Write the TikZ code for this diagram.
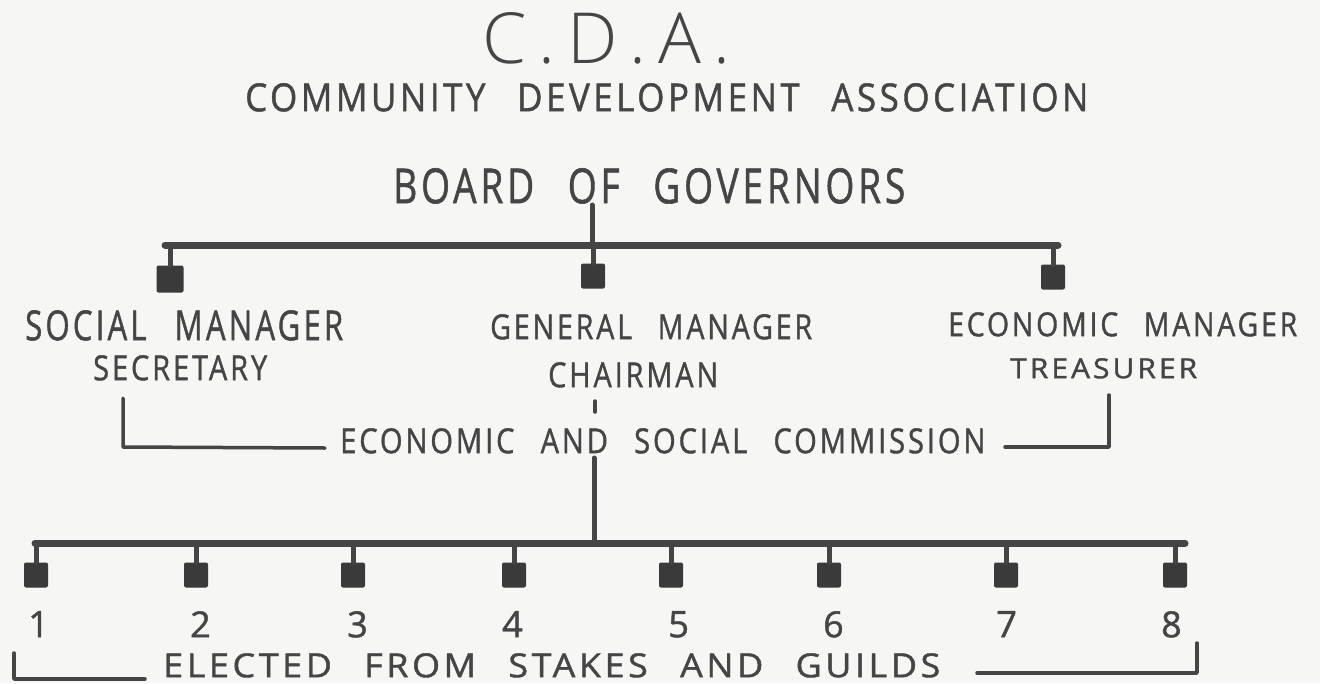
\documentclass[tikz,border=0pt]{standalone}
\usepackage{fontspec}
\setmainfont{Open Sans}
\usepackage{graphicx}
\definecolor{paper}{HTML}{F6F6F4}
\definecolor{ink}{HTML}{454545}
\definecolor{inkdark}{HTML}{3A3A3A}
% text box of a given width and cap height, top-left corner at the anchor
\newcommand{\fitlabel}[3]{\resizebox{#1pt}{#2pt}{\addfontfeature{LetterSpace=10,FakeBold=1.2}#3}}
\newcommand{\gap}{\hspace{0.9em}}
\begin{document}
\begin{tikzpicture}[x=1pt,y=-1pt,
  lbl/.style={anchor=north west,inner sep=0pt,text=ink},
  bar/.style={draw=ink,line width=7pt,line cap=round},
  stem/.style={draw=ink,line width=5pt,line cap=round},
  brk/.style={draw=ink,line width=3.5pt,line cap=round,line join=round},
  sq/.style={rectangle,fill=inkdark,inner sep=0pt,minimum width=24pt,minimum height=25pt,rounded corners=2pt}]
\fill[paper] (0,0) rectangle (1320,683);
\useasboundingbox (0,0) rectangle (1320,683);

% titles
\node[lbl] (cda) at (482,12) {\resizebox{248pt}{51pt}{\fontspec{Open Sans Light}C\,.\,D\,.\,A\,.}};
\node[lbl] (assoc) at (245,83) {\fitlabel{843}{28}{COMMUNITY\gap DEVELOPMENT\gap ASSOCIATION}};
\node[lbl] (board) at (393,168) {\fitlabel{512}{35}{BOARD\gap OF\gap GOVERNORS}};

% upper level
\coordinate (bTop) at (592,205);
\coordinate (bL) at (165,245);
\coordinate (bM) at (592,245);
\coordinate (bR) at (1058,245);
\draw[stem] (bTop) -- (bM);
\draw[bar] (bL) -- (bR);
\node[sq,minimum width=27pt,minimum height=27pt] (u1) at (170,279) {};
\node[sq] (u2) at (593,276) {};
\node[sq] (u3) at (1053,277) {};
\foreach \s in {u1,u2,u3} \draw[stem] (\s |- bL) -- (\s.north);

\node[lbl] (social) at (25,310) {\fitlabel{318}{30}{SOCIAL\gap MANAGER}};
\node[lbl] (secr) at (93,355) {\fitlabel{174}{25}{SECRETARY}};
\node[lbl] (general) at (490,314) {\fitlabel{322}{25}{GENERAL\gap MANAGER}};
\node[lbl] (chair) at (548,362) {\fitlabel{170}{25}{CHAIRMAN}};
\node[lbl] (econ) at (948,312) {\fitlabel{349}{24}{ECONOMIC\gap MANAGER}};
\node[lbl] (treas) at (1010,358) {\fitlabel{187}{20}{TREASURER}};

% commission
\coordinate (tickA) at (595,401);
\coordinate (tickB) at (595,412);
\draw[brk] (tickA) -- (tickB);
\node[lbl] (comm) at (340,428) {\fitlabel{645}{25}{ECONOMIC\gap AND\gap SOCIAL\gap COMMISSION}};
\coordinate (cl1) at (123,398);
\coordinate (cl2) at (123,447);
\coordinate (cl3) at (325,448);
\coordinate (cr1) at (1005,447);
\coordinate (cr2) at (1109,447);
\coordinate (cr3) at (1109,395);
\draw[brk] (cl1) -- (cl2) -- (cl3);
\draw[brk] (cr1) -- (cr2) -- (cr3);

% lower level
\coordinate (lTop) at (594,458);
\coordinate (lM) at (594,543);
\coordinate (lL) at (35,543);
\coordinate (lR) at (1185,543);
\draw[stem] (lTop) -- (lM);
\draw[bar] (lL) -- (lR);
\foreach \i/\x in {1/36,2/196,3/353,4/514,5/671,6/829,7/1006,8/1175}{
  \node[sq] (d\i) at (\x,575) {};
  \draw[stem] (d\i |- lL) -- (d\i.north);
}
\foreach \i/\x in {1/28,2/190,3/347,4/502,5/668,6/823,7/996,8/1161}{
  \node[lbl] (n\i) at (\x,611) {\resizebox{!}{26pt}{\addfontfeature{FakeBold=1.2}\i}};
}

% elected members
\node[lbl] (elect) at (163,653) {\fitlabel{777}{24}{ELECTED\gap FROM\gap STAKES\gap AND\gap GUILDS}};
\coordinate (el1) at (14,653);
\coordinate (el2) at (14,679);
\coordinate (el3) at (145,679);
\coordinate (er1) at (977,673);
\coordinate (er2) at (1197,673);
\coordinate (er3) at (1197,643);
\draw[brk] (el1) -- (el2) -- (el3);
\draw[brk] (er1) -- (er2) -- (er3);
\end{tikzpicture}
\end{document}
